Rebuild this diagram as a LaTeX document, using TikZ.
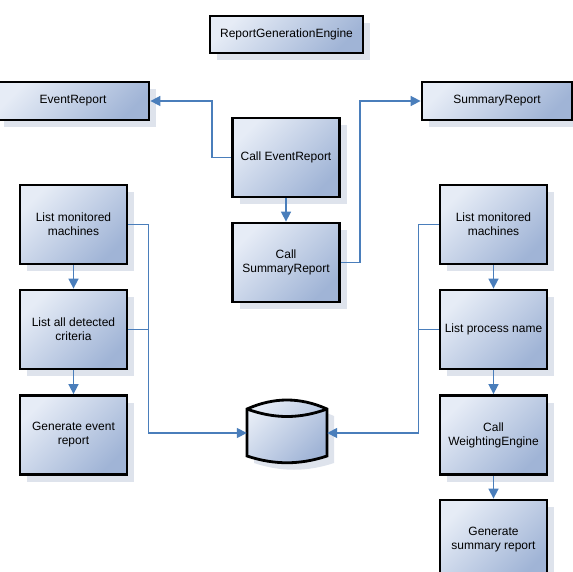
\documentclass[tikz,border=0pt]{standalone}
\usepackage{fontspec}
\setmainfont{Liberation Sans}
\usetikzlibrary{arrows.meta,shadows}
\definecolor{boxtop}{RGB}{230,236,246}
\definecolor{boxbot}{RGB}{160,180,214}
\definecolor{shadowc}{RGB}{222,227,236}
\definecolor{linkc}{RGB}{74,126,187}

\begin{document}
\begin{tikzpicture}[
				x = 1pt, y = -1pt,
				every node/.style = {font = \fontsize{12}{14}\selectfont, align = center},
				block/.style = {draw = black, line width = 2.8pt, top color = boxtop, bottom color = boxbot, shading angle = 45,
					drop shadow = {shadow xshift = 7pt, shadow yshift = -7pt, fill = shadowc, opacity = 1},
					minimum width = 107pt, minimum height = 79pt, inner sep = 2pt},
				wide/.style = {block, minimum width = 152pt, minimum height = 38pt},
				link/.style = {draw = linkc, line width = 1.6pt, -{Triangle[length = 10pt, width = 10pt]}}
			]

			\useasboundingbox (0,0) rectangle (573,572);

			\node[wide, minimum width = 153pt, minimum height = 37pt] (engine) at (286.5,34.5) {ReportGenerationEngine};
			\node[wide] (evrep) at (73,101) {EventReport};
			\node[wide, minimum width = 150pt] (sumrep) at (497,101) {SummaryReport};

			\node[block] (callev) at (286,157.5) {Call EventReport};
			\node[block] (callsum) at (286,262.5) {Call\\SummaryReport};

			\node[block] (lmon) at (73.5,224.5) {List monitored\\machines};
			\node[block] (lcrit) at (73.5,329.5) {List all detected\\criteria};
			\node[block] (lgen) at (73.5,435) {Generate event\\report};

			\node[block] (rmon) at (493.5,224.5) {List monitored\\machines};
			\node[block] (rproc) at (493.5,329.5) {List process name};
			\node[block] (rweight) at (493.5,435) {Call\\WeightingEngine};
			\node[block] (rgen) at (493.5,539.5) {Generate\\summary report};

			\node[minimum width = 80pt, minimum height = 60pt] (store) at (287,433) {};
			\begin{scope}[shift = {(store.center)}]
				\fill[shadowc] (-33,-17) .. controls (-6,-29) and (20,-29) .. (47,-17) -- (47,30)
					.. controls (20,39) and (-6,39) .. (-33,30) -- cycle;
				\shade[draw = black, line width = 2.8pt, top color = boxtop, bottom color = boxbot, shading angle = 45]
					(-40,-24) .. controls (-13,-36) and (13,-36) .. (40,-24) -- (40,23)
					.. controls (13,32) and (-13,32) .. (-40,23) -- cycle;
				\draw[line width = 2.8pt] (-40,-24) .. controls (-13,-14) and (13,-14) .. (40,-24);
			\end{scope}

			\draw[link] (callev.west) -- ++(-19,0) |- (evrep.east);
			\draw[link] (callsum.east) -- ++(19,0) |- (sumrep.west);
			\draw[link] (callev) -- (callsum);

			\draw[link] (lmon) -- (lcrit);
			\draw[link] (lcrit) -- (lgen);
			\draw[link] (lmon.east) -- ++(20,0) |- (store.west);
			\draw[link, -] (lcrit.east) -- ++(20,0);

			\draw[link] (rmon) -- (rproc);
			\draw[link] (rproc) -- (rweight);
			\draw[link] (rweight) -- (rgen);
			\draw[link] (rmon.west) -- ++(-20,0) |- (store.east);
			\draw[link, -] (rproc.west) -- ++(-20,0);

			\end{tikzpicture}
\end{document}
